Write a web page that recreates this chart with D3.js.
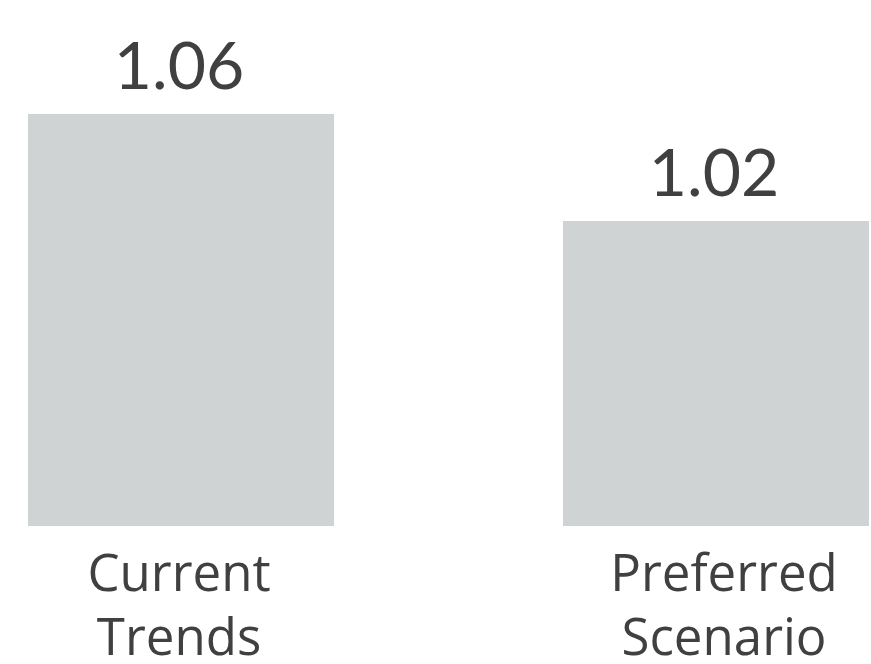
<!DOCTYPE html>
<html>
<head>
<meta charset="utf-8">
<script src="https://cdn.jsdelivr.net/npm/d3@7"></script>
<style>
  html, body { margin: 0; padding: 0; background: #fff; }
  svg { display: block; }
</style>
</head>
<body>
<svg id="chart" width="871" height="664"></svg>
<script>
const categories = ["Current Trends", "Preferred Scenario"];
const categoryLines = [["Current", "Trends"], ["Preferred", "Scenario"]];
const values = [1.06, 1.02];
const valueLabels = ["1.06", "1.02"];

const svg = d3.select("#chart");

const x = d3.scaleBand().domain(categories).range([28, 869]).paddingInner(0.428).paddingOuter(0);
const y = d3.scaleLinear().domain([0.906, 1.06]).range([526, 114]);

const data = categories.map((c, i) => ({ c, v: values[i], label: valueLabels[i], lines: categoryLines[i] }));

svg.selectAll("rect.bar").data(data).join("rect")
  .attr("class", "bar")
  .attr("x", d => x(d.c))
  .attr("width", x.bandwidth())
  .attr("y", d => y(d.v))
  .attr("height", d => y(0.906) - y(d.v))
  .attr("fill", "#d0d3d4");

svg.selectAll("text.val").data(data).join("text")
  .attr("class", "val")
  .attr("x", d => x(d.c) + x.bandwidth() / 2 - 2)
  .attr("y", d => y(d.v) - 25)
  .attr("text-anchor", "middle")
  .attr("font-family", "Lato, sans-serif")
  .attr("font-weight", 400)
  .attr("font-size", 66)
  .attr("fill", "#404040")
  .text(d => d.label);

const catG = svg.selectAll("g.cat").data(data).join("g")
  .attr("class", "cat")
  .attr("transform", (d, i) => `translate(${x(d.c) + x.bandwidth() / 2 + (i === 0 ? -2 : 8)},0)`);

catG.selectAll("text").data(d => d.lines).join("text")
  .attr("x", 0)
  .attr("y", (d, i) => 591 + i * 64)
  .attr("text-anchor", "middle")
  .attr("font-family", "'Open Sans', sans-serif")
  .attr("font-size", 51)
  .attr("fill", "#404040")
  .text(d => d);
</script>
</body>
</html>
